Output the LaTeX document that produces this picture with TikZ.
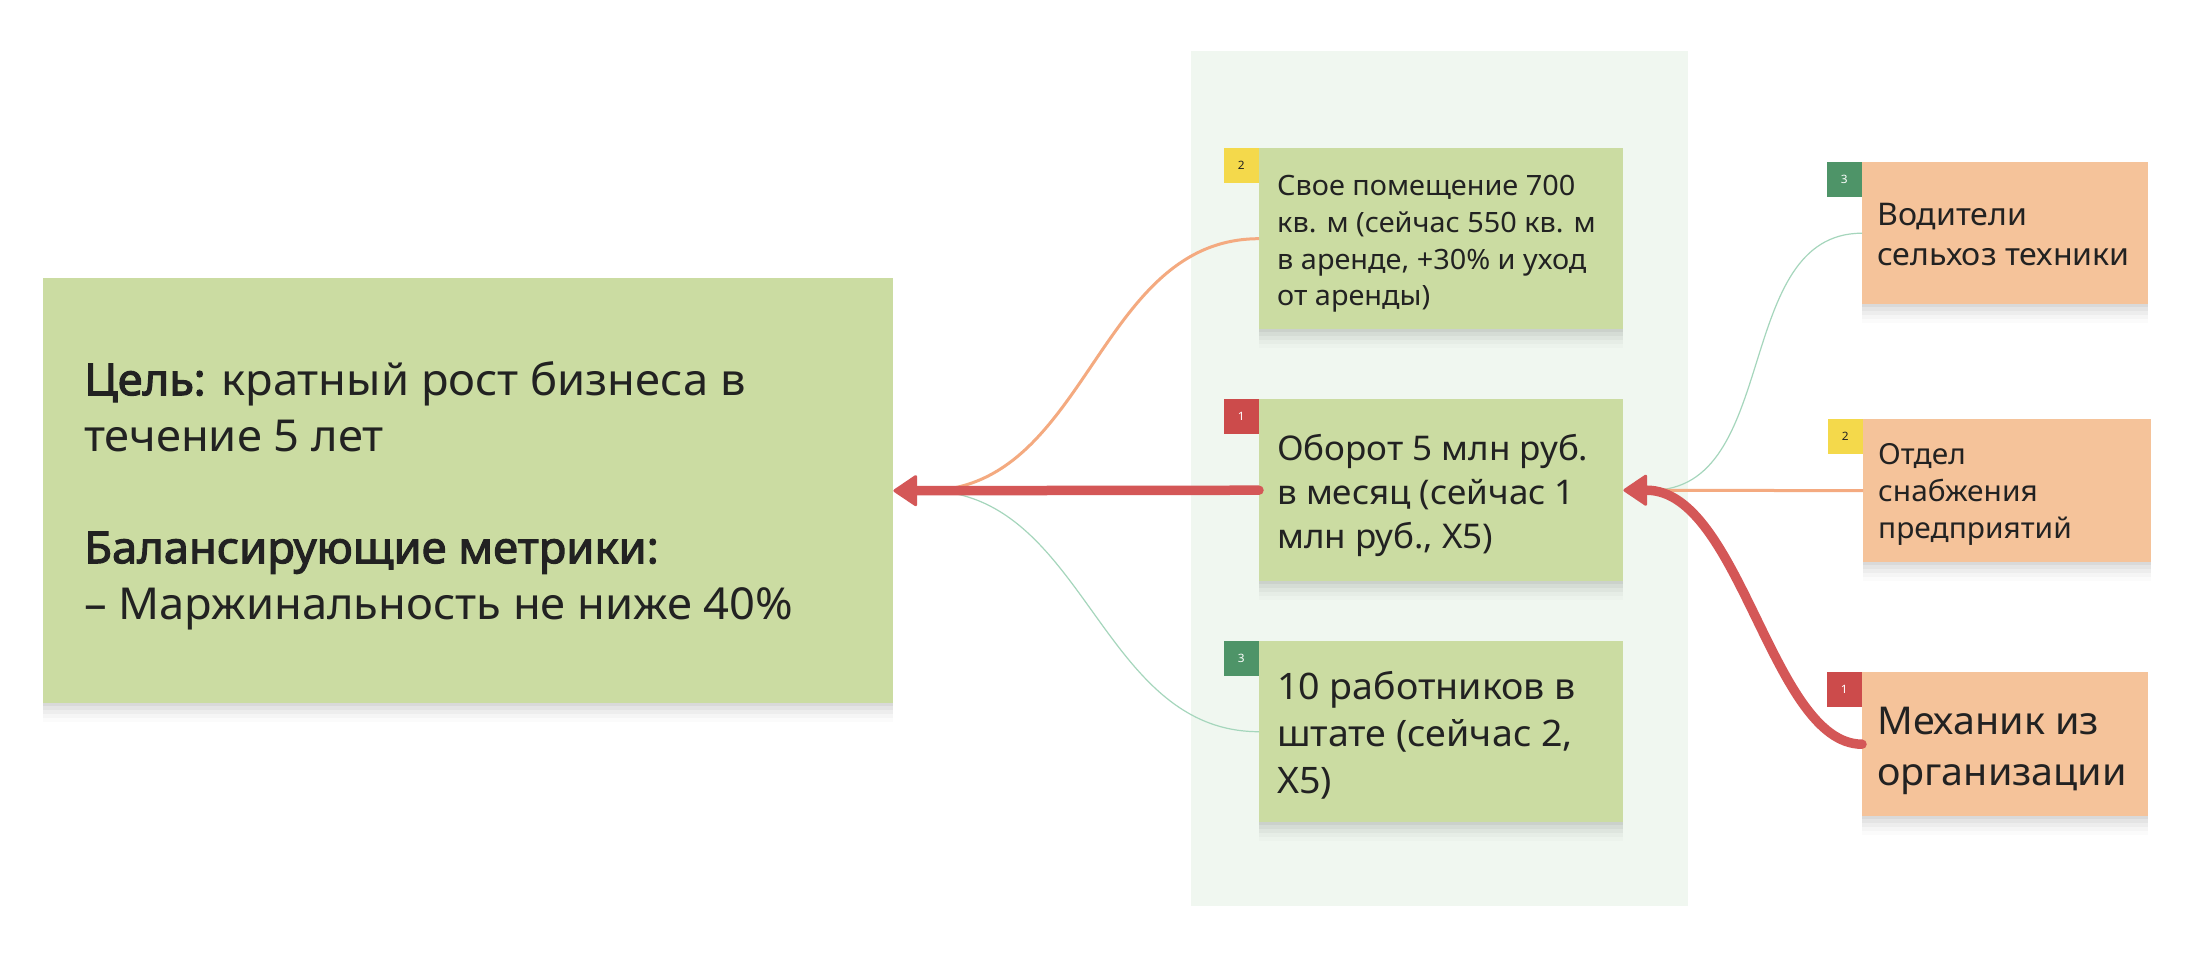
\documentclass[tikz,border=0pt]{standalone}
\usepackage{fontspec}
\setmainfont{Noto Sans}[FakeStretch=1.03, BoldFont={Noto Sans}, BoldFeatures={FakeBold=2.5}]
\usetikzlibrary{arrows.meta,calc,shadows}
\definecolor{cardgreen}{HTML}{CBDCA2}
\definecolor{cardorange}{HTML}{F5C39A}
\definecolor{colbg}{HTML}{F0F7F0}
\definecolor{arrowred}{HTML}{D45757}
\definecolor{badgered}{HTML}{CC4B4B}
\definecolor{badgeyellow}{HTML}{F4D94B}
\definecolor{badgegreen}{HTML}{4E9468}
\definecolor{lineorange}{HTML}{F4AA80}
\definecolor{linegreen}{HTML}{A5D6BC}
\definecolor{textc}{HTML}{222222}
\begin{document}
\begin{tikzpicture}[x=1pt,y=-1pt,
  card/.style={rectangle, inner sep=0pt, anchor=north west,
    general shadow={fill=black, opacity=.045, shadow yshift=-3pt},
    general shadow={fill=black, opacity=.035, shadow yshift=-7pt},
    general shadow={fill=black, opacity=.03, shadow yshift=-11pt},
    general shadow={fill=black, opacity=.022, shadow yshift=-15pt},
    general shadow={fill=black, opacity=.015, shadow yshift=-19pt}},
  gcard/.style={card, fill=cardgreen},
  ocard/.style={card, fill=cardorange},
  badge/.style={rectangle, inner sep=0pt, minimum width=35pt, minimum height=35pt,
    anchor=north east, font=\fontsize{11.5}{13}\selectfont},
  txt/.style={anchor=north west, inner sep=0pt, align=left, text=textc},
  thinorange/.style={draw=lineorange, line width=3pt},
  thingreen/.style={draw=linegreen, line width=1.2pt},
  redarrow/.style={draw=arrowred, line width=9.5pt, line cap=round,
    -{Triangle[length=25pt,width=33pt,line width=3pt,round]}},
]
\useasboundingbox (0,0) rectangle (2198,962);
\fill[white] (0,0) rectangle (2198,962);
\node[rectangle, fill=colbg, inner sep=0pt, anchor=north west,
  minimum width=497pt, minimum height=855pt] (col) at (1191,51) {};

% cards
\node[gcard, minimum width=850pt, minimum height=425pt] (goal) at (43,278) {};
\node[gcard, minimum width=364pt, minimum height=181pt] (n1) at (1259,148) {};
\node[gcard, minimum width=364pt, minimum height=182pt] (n2) at (1259,399) {};
\node[gcard, minimum width=364pt, minimum height=181pt] (n3) at (1259,641) {};
\node[ocard, minimum width=286pt, minimum height=142pt] (r1) at (1862,162) {};
\node[ocard, minimum width=288pt, minimum height=143pt] (r2) at (1863,419) {};
\node[ocard, minimum width=286pt, minimum height=144pt] (r3) at (1862,672) {};

% badges
\node[badge, fill=badgeyellow, text=textc] (b1) at (n1.north west) {2};
\node[badge, fill=badgered, text=white] (b2) at (n2.north west) {1};
\node[badge, fill=badgegreen, text=white] (b3) at (n3.north west) {3};
\node[badge, fill=badgegreen, text=white] (b4) at (r1.north west) {3};
\node[badge, fill=badgeyellow, text=textc] (b5) at (r2.north west) {2};
\node[badge, fill=badgered, text=white] (b6) at (r3.north west) {1};

% texts
\node[txt, font=\fontsize{44}{56}\selectfont] (t0) at (84,355.8)
  {\strut\textbf{Цель:} кратный рост бизнеса в\\течение 5 лет\\[56pt]\textbf{Балансирующие метрики:}\\– Маржинальность не ниже 40\%};
\node[txt, font=\fontsize{28}{36.7}\selectfont] (t1) at (1277,170)
  {\strut Свое помещение 700\\кв. м (сейчас 550 кв. м\\в аренде, +30\% и уход\\от аренды)};
\node[txt, font=\fontsize{34}{44}\selectfont] (t2) at (1277,429.9)
  {\strut Оборот 5 млн руб.\\в месяц (сейчас 1\\млн руб., X5)};
\node[txt, font=\fontsize{36.5}{47}\selectfont] (t3) at (1277,666.4)
  {\strut 10 работников в\\штате (сейчас 2,\\X5)};
\node[txt, font=\fontsize{31.2}{40}\selectfont] (t4) at (1877,197)
  {\strut Водители\\сельхоз техники};
\node[txt, font=\fontsize{29}{37}\selectfont] (t5) at (1878,438.1)
  {\strut Отдел\\снабжения\\предприятий};
\node[txt, font=\fontsize{38.3}{51}\selectfont] (t6) at (1877,698.3)
  {\strut Механик из\\организации};

% connectors
\coordinate (gj) at ($(goal.east)+(32,0)$);
\coordinate (bj) at ($(n2.east)+(28,0)$);
\draw[thinorange] (n1.west) to[out=180,in=0] (gj);
\draw[thingreen] (n3.west) to[out=180,in=0] (gj);
\draw[redarrow] (n2.west) -- (goal.east);
\draw[thingreen] (r1.west) to[out=180,in=0] (bj);
\draw[thinorange] (r2.west) -- (bj);
\draw[redarrow] (r3.west) .. controls ($(r3.west)+(-90,0)$) and ($(n2.east)+(117,0)$) .. (n2.east);
\end{tikzpicture}
\end{document}
